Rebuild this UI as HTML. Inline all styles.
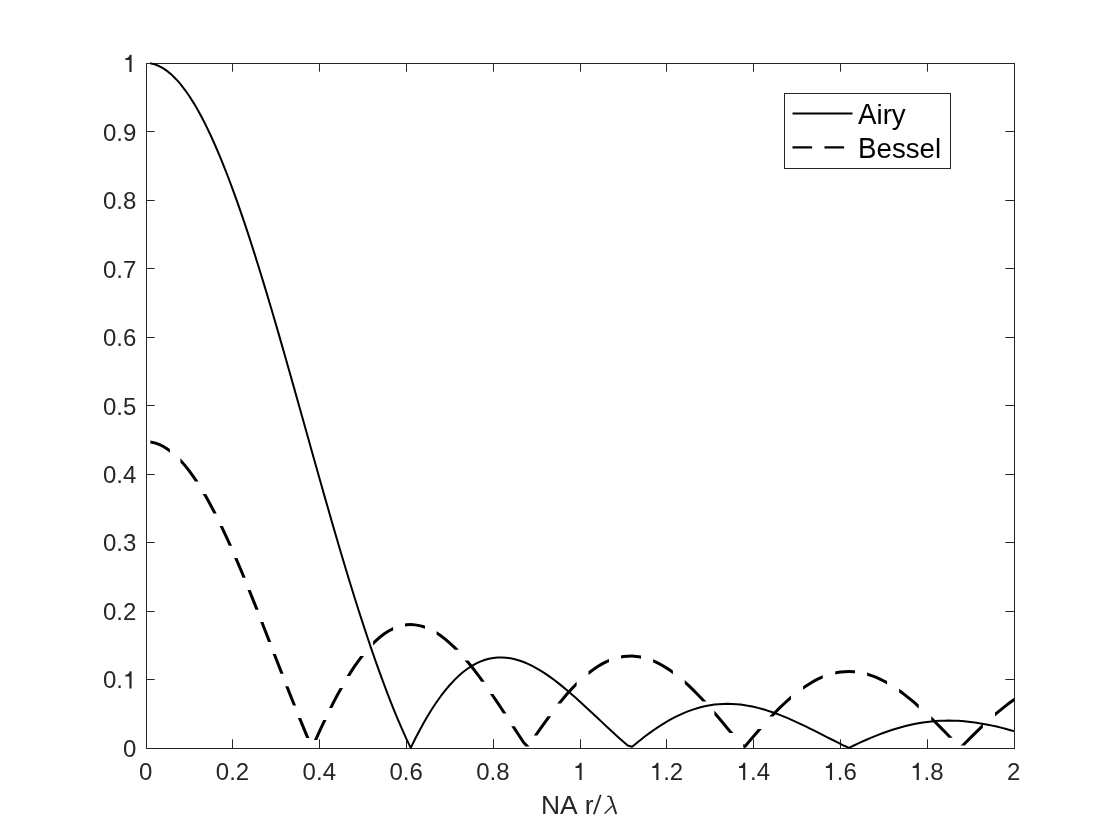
<!DOCTYPE html>
<html><head><meta charset="utf-8"><title>Airy vs Bessel</title>
<style>html,body{margin:0;padding:0;background:#fff;}body{width:1120px;height:840px;overflow:hidden;font-family:"Liberation Sans",sans-serif;}</style>
</head><body>
<svg width="1120" height="840" viewBox="0 0 1120 840" style="display:block;will-change:transform;font-family:'Liberation Sans',sans-serif">
<defs><clipPath id="ax"><rect x="146.0" y="61.5" width="869.0" height="687.5"/></clipPath></defs>
<rect x="146.5" y="63.5" width="868.0" height="685.0" fill="none" stroke="#262626" stroke-width="1"/>
<path d="M146.50,748.5 v-9.2 M146.50,63.5 v8.2 M146.5,748.50 h8.2 M1014.5,748.50 h-9.2 M232.50,748.5 v-9.2 M232.50,63.5 v8.2 M146.5,679.50 h8.2 M1014.5,679.50 h-9.2 M319.50,748.5 v-9.2 M319.50,63.5 v8.2 M146.5,611.50 h8.2 M1014.5,611.50 h-9.2 M406.50,748.5 v-9.2 M406.50,63.5 v8.2 M146.5,542.50 h8.2 M1014.5,542.50 h-9.2 M493.50,748.5 v-9.2 M493.50,63.5 v8.2 M146.5,474.50 h8.2 M1014.5,474.50 h-9.2 M580.50,748.5 v-9.2 M580.50,63.5 v8.2 M146.5,405.50 h8.2 M1014.5,405.50 h-9.2 M666.50,748.5 v-9.2 M666.50,63.5 v8.2 M146.5,337.50 h8.2 M1014.5,337.50 h-9.2 M753.50,748.5 v-9.2 M753.50,63.5 v8.2 M146.5,268.50 h8.2 M1014.5,268.50 h-9.2 M840.50,748.5 v-9.2 M840.50,63.5 v8.2 M146.5,200.50 h8.2 M1014.5,200.50 h-9.2 M927.50,748.5 v-9.2 M927.50,63.5 v8.2 M146.5,131.50 h8.2 M1014.5,131.50 h-9.2 M1014.50,748.5 v-9.2 M1014.50,63.5 v8.2 M146.5,63.50 h8.2 M1014.5,63.50 h-9.2" fill="none" stroke="#262626" stroke-width="1"/>
<g font-size="24" fill="#262626"><text transform="translate(139.03,779.60) scale(1,1.02)">0</text><text transform="translate(215.82,779.60) scale(1,1.02)">0</text><text transform="translate(229.16,779.60) scale(1,1.02)">.</text><text transform="translate(235.84,779.60) scale(1,1.02)">2</text><text transform="translate(302.62,779.60) scale(1,1.02)">0</text><text transform="translate(315.96,779.60) scale(1,1.02)">.</text><text transform="translate(322.64,779.60) scale(1,1.02)">4</text><text transform="translate(389.42,779.60) scale(1,1.02)">0</text><text transform="translate(402.76,779.60) scale(1,1.02)">.</text><text transform="translate(409.44,779.60) scale(1,1.02)">6</text><text transform="translate(476.22,779.60) scale(1,1.02)">0</text><text transform="translate(489.56,779.60) scale(1,1.02)">.</text><text transform="translate(496.24,779.60) scale(1,1.02)">8</text><path d="M581.64,779.90 L579.48,779.90 L579.48,767.97 L575.45,767.97 L575.45,766.17 C577.95,766.00 579.27,765.40 579.89,762.81 L581.64,762.81 Z"/><path d="M658.44,779.90 L656.28,779.90 L656.28,767.97 L652.24,767.97 L652.24,766.17 C654.74,766.00 656.06,765.40 656.68,762.81 L658.44,762.81 Z"/><text transform="translate(663.16,779.60) scale(1,1.02)">.</text><text transform="translate(669.84,779.60) scale(1,1.02)">2</text><path d="M745.24,779.90 L743.08,779.90 L743.08,767.97 L739.04,767.97 L739.04,766.17 C741.54,766.00 742.86,765.40 743.48,762.81 L745.24,762.81 Z"/><text transform="translate(749.96,779.60) scale(1,1.02)">.</text><text transform="translate(756.64,779.60) scale(1,1.02)">4</text><path d="M832.04,779.90 L829.88,779.90 L829.88,767.97 L825.84,767.97 L825.84,766.17 C828.34,766.00 829.66,765.40 830.28,762.81 L832.04,762.81 Z"/><text transform="translate(836.76,779.60) scale(1,1.02)">.</text><text transform="translate(843.44,779.60) scale(1,1.02)">6</text><path d="M918.84,779.90 L916.68,779.90 L916.68,767.97 L912.64,767.97 L912.64,766.17 C915.14,766.00 916.46,765.40 917.08,762.81 L918.84,762.81 Z"/><text transform="translate(923.56,779.60) scale(1,1.02)">.</text><text transform="translate(930.24,779.60) scale(1,1.02)">8</text><text transform="translate(1007.03,779.60) scale(1,1.02)">2</text><text transform="translate(122.96,757.40) scale(1,1.02)">0</text><text transform="translate(102.94,688.10) scale(1,1.02)">0</text><text transform="translate(116.28,688.10) scale(1,1.02)">.</text><path d="M131.57,688.40 L129.41,688.40 L129.41,676.47 L125.38,676.47 L125.38,674.67 C127.88,674.50 129.20,673.90 129.82,671.31 L131.57,671.31 Z"/><text transform="translate(102.94,620.40) scale(1,1.02)">0</text><text transform="translate(116.28,620.40) scale(1,1.02)">.</text><text transform="translate(122.96,620.40) scale(1,1.02)">2</text><text transform="translate(102.94,551.10) scale(1,1.02)">0</text><text transform="translate(116.28,551.10) scale(1,1.02)">.</text><text transform="translate(122.96,551.10) scale(1,1.02)">3</text><text transform="translate(102.94,483.40) scale(1,1.02)">0</text><text transform="translate(116.28,483.40) scale(1,1.02)">.</text><text transform="translate(122.96,483.40) scale(1,1.02)">4</text><text transform="translate(102.94,414.90) scale(1,1.02)">0</text><text transform="translate(116.28,414.90) scale(1,1.02)">.</text><text transform="translate(122.96,414.90) scale(1,1.02)">5</text><text transform="translate(102.94,346.40) scale(1,1.02)">0</text><text transform="translate(116.28,346.40) scale(1,1.02)">.</text><text transform="translate(122.96,346.40) scale(1,1.02)">6</text><text transform="translate(102.94,277.90) scale(1,1.02)">0</text><text transform="translate(116.28,277.90) scale(1,1.02)">.</text><text transform="translate(122.96,277.90) scale(1,1.02)">7</text><text transform="translate(102.94,209.40) scale(1,1.02)">0</text><text transform="translate(116.28,209.40) scale(1,1.02)">.</text><text transform="translate(122.96,209.40) scale(1,1.02)">8</text><text transform="translate(102.94,140.90) scale(1,1.02)">0</text><text transform="translate(116.28,140.90) scale(1,1.02)">.</text><text transform="translate(122.96,140.90) scale(1,1.02)">9</text><path d="M131.57,71.90 L129.41,71.90 L129.41,59.97 L125.38,59.97 L125.38,58.17 C127.88,58.00 129.20,57.40 129.82,54.81 L131.57,54.81 Z"/></g>
<g font-size="26.4" fill="#262626"><text x="541" y="814.0">NA</text><text x="584.7" y="814.0">r</text><path d="M599.8,794.7 H601.7 L594.8,814.3 H592.9 Z"/></g>
<path d="M607.8,796.35 C609.3,796.0 610.4,796.5 611.0,798.2" fill="none" stroke="#262626" stroke-width="1.4" stroke-linecap="round"/>
<path d="M610.75,797.6 L616.0,813.35" fill="none" stroke="#262626" stroke-width="1.95" stroke-linecap="round"/>
<path d="M612.0,806.2 L605.0,813.3" fill="none" stroke="#262626" stroke-width="1.3" stroke-linecap="round"/>
<path d="M150.34,63.34 L154.68,64.35 L159.02,66.04 L163.36,68.39 L167.70,71.42 L172.04,75.10 L176.38,79.43 L180.72,84.41 L185.06,90.02 L189.40,96.25 L193.74,103.10 L198.08,110.54 L202.42,118.56 L206.76,127.15 L211.10,136.29 L215.44,145.97 L219.78,156.16 L224.12,166.84 L228.46,178.00 L232.80,189.60 L237.14,201.64 L241.48,214.09 L245.82,226.92 L250.16,240.11 L254.50,253.63 L258.84,267.47 L263.18,281.59 L267.52,295.96 L271.86,310.57 L276.20,325.38 L280.54,340.37 L284.88,355.51 L289.22,370.78 L293.56,386.14 L297.90,401.57 L302.24,417.04 L306.58,432.53 L310.92,448.01 L315.26,463.45 L319.60,478.84 L323.94,494.13 L328.28,509.31 L332.62,524.35 L336.96,539.23 L341.30,553.93 L345.64,568.42 L349.98,582.68 L354.32,596.69 L358.66,610.43 L363.00,623.88 L367.34,637.03 L371.68,649.85 L376.02,662.32 L380.36,674.44 L384.70,686.19 L389.04,697.55 L393.38,708.51 L397.72,719.06 L402.06,729.19 L406.40,738.89 L410.74,747.85 L415.08,739.03 L419.42,730.67 L423.76,722.76 L428.10,715.31 L432.44,708.32 L436.78,701.79 L441.12,695.73 L445.46,690.14 L449.80,685.00 L454.14,680.32 L458.48,676.10 L462.82,672.33 L467.16,669.00 L471.50,666.12 L475.84,663.66 L480.18,661.62 L484.52,659.99 L488.86,658.77 L493.20,657.94 L497.54,657.49 L501.88,657.40 L506.22,657.67 L510.56,658.28 L514.90,659.22 L519.24,660.46 L523.58,662.01 L527.92,663.83 L532.26,665.92 L536.60,668.27 L540.94,670.84 L545.28,673.63 L549.62,676.62 L553.96,679.79 L558.30,683.12 L562.64,686.61 L566.98,690.22 L571.32,693.95 L575.66,697.78 L580.00,701.69 L584.34,705.67 L588.68,709.69 L593.02,713.74 L597.36,717.81 L601.70,721.89 L606.04,725.94 L610.38,729.98 L614.72,733.97 L619.06,737.90 L623.40,741.77 L627.74,745.56 L632.08,746.74 L636.42,743.15 L640.76,739.66 L645.10,736.31 L649.44,733.08 L653.78,729.99 L658.12,727.06 L662.46,724.27 L666.80,721.65 L671.14,719.20 L675.48,716.92 L679.82,714.81 L684.16,712.89 L688.50,711.15 L692.84,709.59 L697.18,708.22 L701.52,707.04 L705.86,706.04 L710.20,705.23 L714.54,704.61 L718.88,704.17 L723.22,703.91 L727.56,703.83 L731.90,703.92 L736.24,704.18 L740.58,704.61 L744.92,705.20 L749.26,705.94 L753.60,706.83 L757.94,707.87 L762.28,709.03 L766.62,710.33 L770.96,711.75 L775.30,713.27 L779.64,714.91 L783.98,716.63 L788.32,718.45 L792.66,720.35 L797.00,722.31 L801.34,724.34 L805.68,726.42 L810.02,728.54 L814.36,730.70 L818.70,732.88 L823.04,735.08 L827.38,737.29 L831.72,739.50 L836.06,741.70 L840.40,743.89 L844.74,746.05 L849.08,747.82 L853.42,745.73 L857.76,743.69 L862.10,741.70 L866.44,739.78 L870.78,737.92 L875.12,736.13 L879.46,734.42 L883.80,732.79 L888.14,731.25 L892.48,729.81 L896.82,728.46 L901.16,727.21 L905.50,726.06 L909.84,725.02 L914.18,724.08 L918.52,723.26 L922.86,722.54 L927.20,721.94 L931.54,721.45 L935.88,721.07 L940.22,720.80 L944.56,720.64 L948.90,720.59 L953.24,720.66 L957.58,720.82 L961.92,721.09 L966.26,721.46 L970.60,721.93 L974.94,722.50 L979.28,723.15 L983.62,723.90 L987.96,724.72 L992.30,725.63 L996.64,726.60 L1000.98,727.65 L1005.32,728.76 L1009.66,729.93 L1014.00,731.15" fill="none" stroke="#000" stroke-width="2" stroke-linejoin="round" clip-path="url(#ax)"/>
<path d="M150.34,443.49 154.28,444.32 158.44,445.76 162.64,447.79 166.85,450.41 169.90,452.71 169.90,448.95 168.55,447.93 164.08,445.16 159.60,442.99 155.08,441.42 150.34,440.43Z M180.40,462.52 179.62,461.73 183.91,466.62 188.20,472.06 192.51,478.02 194.89,481.60 198.50,481.60 194.97,476.31 190.60,470.25 186.21,464.70 181.82,459.68 180.40,458.24Z M202.69,494.10 205.45,498.85 209.78,506.71 213.33,513.50 216.71,513.50 212.42,505.29 208.07,497.37 206.16,494.10Z M219.60,526.10 222.76,532.70 227.09,542.08 228.71,545.70 232.00,545.70 229.83,540.84 225.48,531.42 222.93,526.10Z M234.17,558.10 235.76,561.76 240.10,572.00 242.48,577.75 245.73,577.75 242.86,570.84 238.52,560.58 237.44,558.10Z M247.50,590.00 248.77,593.13 253.11,603.96 255.40,609.75 258.62,609.75 255.89,602.85 251.55,592.01 250.73,590.00Z M260.22,622.00 261.78,626.00 266.12,637.15 267.97,641.90 271.18,641.90 268.92,636.06 264.58,624.91 263.44,622.00Z M272.66,654.00 274.80,659.53 279.14,670.71 280.33,673.75 283.55,673.75 281.94,669.62 277.60,658.45 275.88,654.00Z M285.22,686.25 287.82,692.88 292.17,703.81 292.89,705.60 296.12,705.60 294.95,702.70 290.62,691.78 288.44,686.25Z M297.94,718.10 300.85,725.23 305.20,735.65 306.16,737.90 309.42,737.90 307.96,734.48 303.63,724.08 301.18,718.10Z M317.27,740.00 320.96,731.79 325.30,722.46 326.48,720.00 323.15,720.00 322.58,721.17 318.24,730.54 313.98,740.00Z M332.41,707.90 333.96,704.81 338.28,696.53 343.01,687.91 339.59,687.91 335.64,695.11 331.28,703.44 329.05,707.90Z M350.16,675.90 351.25,674.13 355.56,667.54 359.87,661.40 363.97,656.00 360.20,656.00 357.45,659.63 353.08,665.85 348.71,672.53 346.65,675.90Z M373.10,645.52 377.04,641.65 381.30,637.96 385.55,634.77 389.79,632.09 393.10,630.38 393.10,627.01 388.29,629.49 383.85,632.30 379.42,635.62 375.00,639.45 373.10,641.31Z M405.00,626.61 406.57,626.35 410.74,626.12 414.91,626.36 419.10,627.06 423.29,628.22 425.00,628.87 425.00,625.66 424.23,625.37 419.74,624.13 415.25,623.38 410.74,623.12 406.23,623.36 405.00,623.57Z M436.60,634.69 435.98,634.33 440.24,637.22 444.52,640.50 448.80,644.16 453.09,648.19 454.63,649.75 458.84,649.75 455.19,646.04 450.80,641.92 446.40,638.17 442.00,634.78 437.58,631.79 436.60,631.22Z M464.60,660.60 466.01,662.23 470.33,667.50 474.65,673.01 478.97,678.76 481.11,681.70 484.82,681.70 481.39,676.97 477.03,671.19 472.67,665.62 468.31,660.30 468.57,660.60Z M489.88,694.10 491.96,697.12 496.29,703.52 500.63,710.03 502.91,713.50 506.50,713.50 503.13,708.38 498.79,701.85 494.44,695.42 493.53,694.10Z M511.26,726.25 513.64,729.91 517.98,736.57 522.39,743.30 525.46,746.60 529.55,746.60 524.77,741.45 520.50,734.93 516.16,728.28 514.84,726.25Z M537.44,735.60 537.84,735.01 542.17,728.75 546.50,722.65 551.16,716.25 547.45,716.25 544.06,720.90 539.71,727.03 535.36,733.31 533.81,735.60Z M561.05,703.50 563.79,700.14 568.11,695.10 572.42,690.31 576.73,685.81 576.60,685.94 576.60,681.74 574.59,683.70 570.22,688.27 565.85,693.12 561.49,698.22 557.18,703.50Z M588.50,675.08 589.61,674.15 593.89,670.91 598.17,668.01 602.43,665.46 606.68,663.26 609.00,662.26 609.00,658.99 605.40,660.55 600.97,662.84 596.55,665.48 592.15,668.47 587.75,671.80 588.50,671.17Z M621.00,658.52 623.61,658.05 627.82,657.64 632.04,657.58 636.25,657.88 640.48,658.52 641.00,658.65 641.00,655.57 641.04,655.58 636.59,654.90 632.12,654.58 627.66,654.64 623.19,655.08 621.00,655.47Z M653.10,662.46 653.19,662.50 657.45,664.48 661.71,666.78 665.99,669.38 670.27,672.28 672.90,674.22 672.90,670.49 672.01,669.83 667.61,666.86 663.21,664.17 658.79,661.80 654.37,659.74 653.10,659.24Z M684.75,684.04 687.47,686.52 691.79,690.66 696.11,695.01 700.43,699.53 702.33,701.60 706.41,701.60 702.61,697.48 698.25,692.92 693.89,688.53 689.53,684.33 684.75,679.98Z M714.40,715.14 713.41,714.00 717.74,719.06 722.07,724.19 726.41,729.39 729.48,733.10 733.37,733.10 728.71,727.47 724.37,722.26 720.02,717.11 715.67,712.04 714.40,710.58Z M743.20,747.35 744.19,747.90 746.07,747.54 750.41,742.36 754.74,737.24 759.07,732.21 761.89,729.00 757.90,729.00 756.81,730.24 752.46,735.29 748.11,740.43 743.77,745.62 745.65,745.27 743.20,743.92Z M773.40,716.40 776.37,713.30 780.69,708.96 785.01,704.82 789.32,700.88 790.95,699.47 790.95,695.50 787.32,698.64 782.95,702.63 778.59,706.82 774.23,711.20 769.24,716.40Z M803.10,689.81 806.51,687.43 810.80,684.70 815.07,682.25 819.34,680.07 822.75,678.56 822.75,675.28 818.06,677.36 813.65,679.61 809.24,682.14 804.85,684.93 803.10,686.15Z M835.25,674.53 836.36,674.26 840.60,673.55 844.84,673.13 849.07,673.01 853.31,673.18 855.00,673.36 855.00,670.35 853.53,670.19 849.09,670.01 844.64,670.13 840.20,670.57 835.76,671.32 835.25,671.44Z M867.10,675.76 870.29,676.76 874.56,678.35 878.83,680.21 883.10,682.34 887.10,684.55 887.10,681.12 884.50,679.68 880.09,677.49 875.68,675.57 871.27,673.92 867.10,672.62Z M899.10,692.40 900.27,693.23 904.58,696.50 908.89,699.96 913.20,703.59 917.52,707.39 918.75,708.51 918.75,704.45 919.52,705.15 915.16,701.32 910.79,697.64 906.42,694.14 902.05,690.82 899.10,688.72Z M931.25,720.31 930.49,719.58 934.82,723.85 939.15,728.21 943.49,732.62 947.82,737.08 948.47,737.75 952.65,737.75 949.98,734.99 945.63,730.52 941.29,726.10 936.94,721.73 932.59,717.43 931.25,716.14Z M964.91,745.60 967.33,743.12 971.66,738.72 976.00,734.40 980.32,730.15 982.90,727.68 982.90,723.53 978.24,728.00 973.88,732.26 969.54,736.61 965.19,741.02 960.72,745.60Z M995.00,716.58 997.61,714.31 1001.93,710.71 1006.24,707.28 1010.55,704.04 1014.50,701.23 1014.50,697.56 1008.77,701.61 1004.40,704.91 1000.03,708.38 995.67,712.03 995.00,712.61Z" fill="#000" stroke="none" clip-path="url(#ax)"/>
<rect x="784.5" y="93.5" width="166" height="75" fill="#fff" stroke="#262626" stroke-width="1"/>
<path d="M792.5,113.4 H852.5" stroke="#000" stroke-width="2" fill="none"/>
<path d="M792.5,147.4 H852.5" stroke="#000" stroke-width="2.4" stroke-dasharray="19.6 12.4" fill="none"/>
<g font-size="27.7" fill="#000"><text transform="translate(858,123.7) scale(1,1.035)">A</text><text transform="translate(876.48,123.7) scale(1,0.972)">iry</text><text transform="translate(858,157.8) scale(1,1.035)">B</text><text transform="translate(876.48,157.8) scale(1,0.972)">essel</text></g>
</svg>
</body></html>
